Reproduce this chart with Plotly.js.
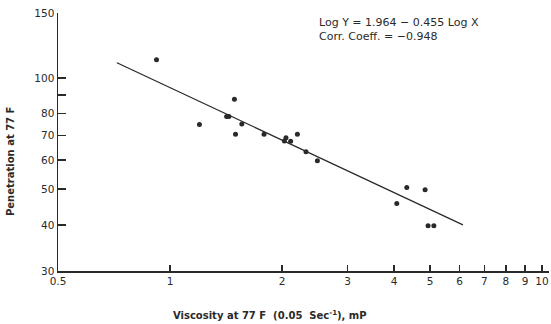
<!DOCTYPE html>
<html>
<head>
<meta charset="utf-8">
<script src="https://cdn.plot.ly/plotly-3.0.1.min.js"></script>
<style>html,body{margin:0;padding:0;background:#fff;}#chart{width:551px;height:324px;}</style>
</head>
<body>
<div id="chart"></div>
<script>
// Observed data points (viscosity at 77F, mP ; penetration at 77F)
const viscosity = [0.92, 1.20, 1.42, 1.44, 1.49, 1.50, 1.56, 1.79, 2.05, 2.03, 2.11, 2.20, 2.32, 2.49, 4.07, 4.33, 4.85, 4.94, 5.12];
const penetration = [112, 74.8, 78.7, 78.7, 87.6, 70.4, 75.1, 70.4, 68.9, 67.5, 67.4, 70.4, 63.1, 59.7, 45.7, 50.5, 49.8, 39.8, 39.8];

// Regression line end points
const fitX = [0.72, 6.13];
const fitY = [110, 40];

// Tick labels
const xTickVals = [0.5, 1, 2, 3, 4, 5, 6, 7, 8, 9, 10];
const xTickText = ["0.5", "1", "2", "3", "4", "5", "6", "7", "8", "9", "10"];
const yTickVals = [30, 40, 50, 60, 70, 80, 100, 150];
const yTickText = ["30", "40", "50", "60", "70", "80", "100", "150"];
const yMinorTickVals = [90];

// Texts
const xTitle = "Viscosity at 77 F  (0.05  Sec<sup>-1</sup>), mP";
const yTitle = "Penetration at 77 F";
const eqLine1 = "Log Y = 1.964 \u2212 0.455 Log X";
const eqLine2 = "Corr. Coeff. = \u22120.948";

const ink = "#2a2a2a";
const fontFam = "DejaVu Sans, Liberation Sans, Arial, sans-serif";

const traces = [
  {
    x: fitX, y: fitY, type: "scatter", mode: "lines",
    line: {color: ink, width: 1.3}, hoverinfo: "skip", showlegend: false
  },
  {
    x: viscosity, y: penetration, type: "scatter", mode: "markers",
    marker: {color: ink, size: 5}, showlegend: false
  }
];

const layout = {
  width: 551, height: 324,
  margin: {l: 58, r: 2, t: 13, b: 53},
  paper_bgcolor: "#fff", plot_bgcolor: "#fff",
  font: {family: fontFam, color: ink, size: 10.5},
  showlegend: false,
  xaxis: {
    type: "log",
    range: [Math.log10(0.5), 1.0188],
    tickvals: xTickVals, ticktext: xTickText,
    ticks: "inside", ticklen: 6, tickwidth: 1.3, tickcolor: ink,
    showline: true, linecolor: ink, linewidth: 1.5,
    showgrid: false, zeroline: false,
    tickfont: {size: 10.5, color: ink, family: fontFam},
    automargin: false
  },
  yaxis: {
    type: "log",
    range: [Math.log10(30), Math.log10(150)],
    tickvals: yTickVals, ticktext: yTickText,
    ticks: "inside", ticklen: 8, tickwidth: 1.3, tickcolor: ink,
    minor: {tickmode: "array", tickvals: yMinorTickVals, ticks: "inside", ticklen: 8, tickwidth: 1.3, tickcolor: ink, showgrid: false},
    showline: true, linecolor: ink, linewidth: 1.5,
    showgrid: false, zeroline: false,
    tickfont: {size: 10.5, color: ink, family: fontFam},
    automargin: false
  },
  annotations: [
    {
      xref: "paper", yref: "paper", x: 0.4318, y: -0.1705,
      xanchor: "center", yanchor: "middle", showarrow: false,
      text: xTitle, font: {size: 10, color: ink, family: fontFam, weight: "bold"}
    },
    {
      xref: "paper", yref: "paper", x: -0.0957, y: 0.4225,
      xanchor: "center", yanchor: "middle", showarrow: false, textangle: -90,
      text: yTitle, font: {size: 10, color: ink, family: fontFam, weight: "bold"}
    },
    {
      xref: "paper", yref: "paper", x: 0.527, y: 0.965,
      xanchor: "left", yanchor: "middle", align: "left", showarrow: false,
      text: eqLine1, font: {size: 11, color: ink, family: fontFam}
    },
    {
      xref: "paper", yref: "paper", x: 0.527, y: 0.910,
      xanchor: "left", yanchor: "middle", align: "left", showarrow: false,
      text: eqLine2, font: {size: 11, color: ink, family: fontFam}
    }
  ]
};

Plotly.newPlot("chart", traces, layout, {displayModeBar: false, staticPlot: true});
</script>
</body>
</html>
